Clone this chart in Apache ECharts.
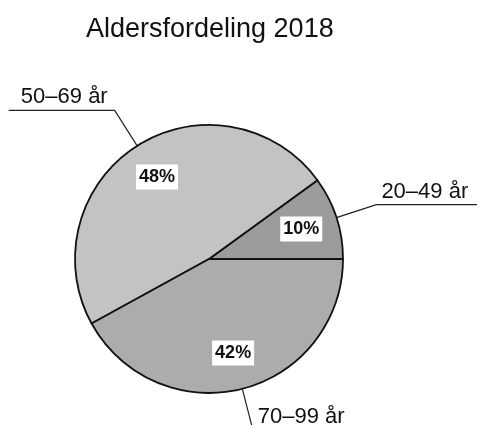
<!DOCTYPE html>
<html>
<head>
<meta charset="utf-8">
<script src="https://cdn.jsdelivr.net/npm/echarts@6/dist/echarts.min.js"></script>
<style>html,body{margin:0;padding:0;background:#fff}#c{width:477px;height:425px}</style>
</head>
<body>
<div id="c"></div>
<script>
var titleText = 'Aldersfordeling 2018';
var categories = ['20–49 år', '50–69 år', '70–99 år'];
var values = [10, 48, 42];
var colors = ['#9c9c9c', '#c3c3c3', '#acacac'];

var FONT = '"Liberation Sans", Arial, sans-serif';
var OFF = 300;
var CX = 209, CY = 259, R = 134;

var data = categories.map(function (c, i) {
  return { name: c, value: values[i], itemStyle: { color: colors[i] } };
});

var chart = echarts.init(document.getElementById('c'), null, { renderer: 'canvas' });
chart.setOption({
  animation: false,
  backgroundColor: '#fff',
  title: {
    text: titleText,
    left: 81,
    top: 11,
    textStyle: { fontFamily: FONT, fontSize: 27, fontWeight: 'normal', color: '#111' }
  },
  series: [
    {
      type: 'pie',
      left: -OFF, right: -OFF, top: -OFF, bottom: -OFF,
      center: [CX + OFF, CY + OFF],
      radius: [0, R],
      startAngle: 0,
      clockwise: false,
      avoidLabelOverlap: false,
      silent: true,
      itemStyle: { borderColor: '#111', borderWidth: 1.8 },
      label: {
        show: true,
        position: 'outside',
        formatter: '{b}',
        fontFamily: FONT,
        fontSize: 22,
        color: '#111',
        width: 110,
        overflow: 'none'
      },
      labelLine: {
        show: true,
        length: 42,
        length2: 106,
        smooth: false,
        lineStyle: { color: '#222', width: 1.2 }
      },
      labelLayout: function (p) {
        var pts = p.labelLinePoints;
        if (!pts) return {};
        var isLeft = pts[2][0] < pts[1][0];
        return {
          x: pts[1][0] + (isLeft ? -7 : 5),
          y: pts[1][1] - 2,
          align: isLeft ? 'right' : 'left',
          verticalAlign: 'bottom',
          labelLinePoints: pts
        };
      },
      emphasis: { disabled: true },
      data: data
    },
    {
      type: 'pie',
      left: -OFF, right: -OFF, top: -OFF, bottom: -OFF,
      center: [CX + OFF, CY + OFF],
      radius: [54, R],
      startAngle: 0,
      clockwise: false,
      silent: true,
      z: 5,
      itemStyle: { color: 'rgba(0,0,0,0)', borderWidth: 0 },
      label: {
        show: true,
        position: 'inside',
        formatter: '{c}%',
        fontFamily: FONT,
        fontSize: 18,
        fontWeight: 'bold',
        color: '#111',
        backgroundColor: '#fff',
        padding: [4, 3, 3, 3]
      },
      labelLine: { show: false },
      emphasis: { disabled: true },
      data: values.map(function (v, i) { return { name: categories[i], value: v }; })
    }
  ]
});
</script>
</body>
</html>
